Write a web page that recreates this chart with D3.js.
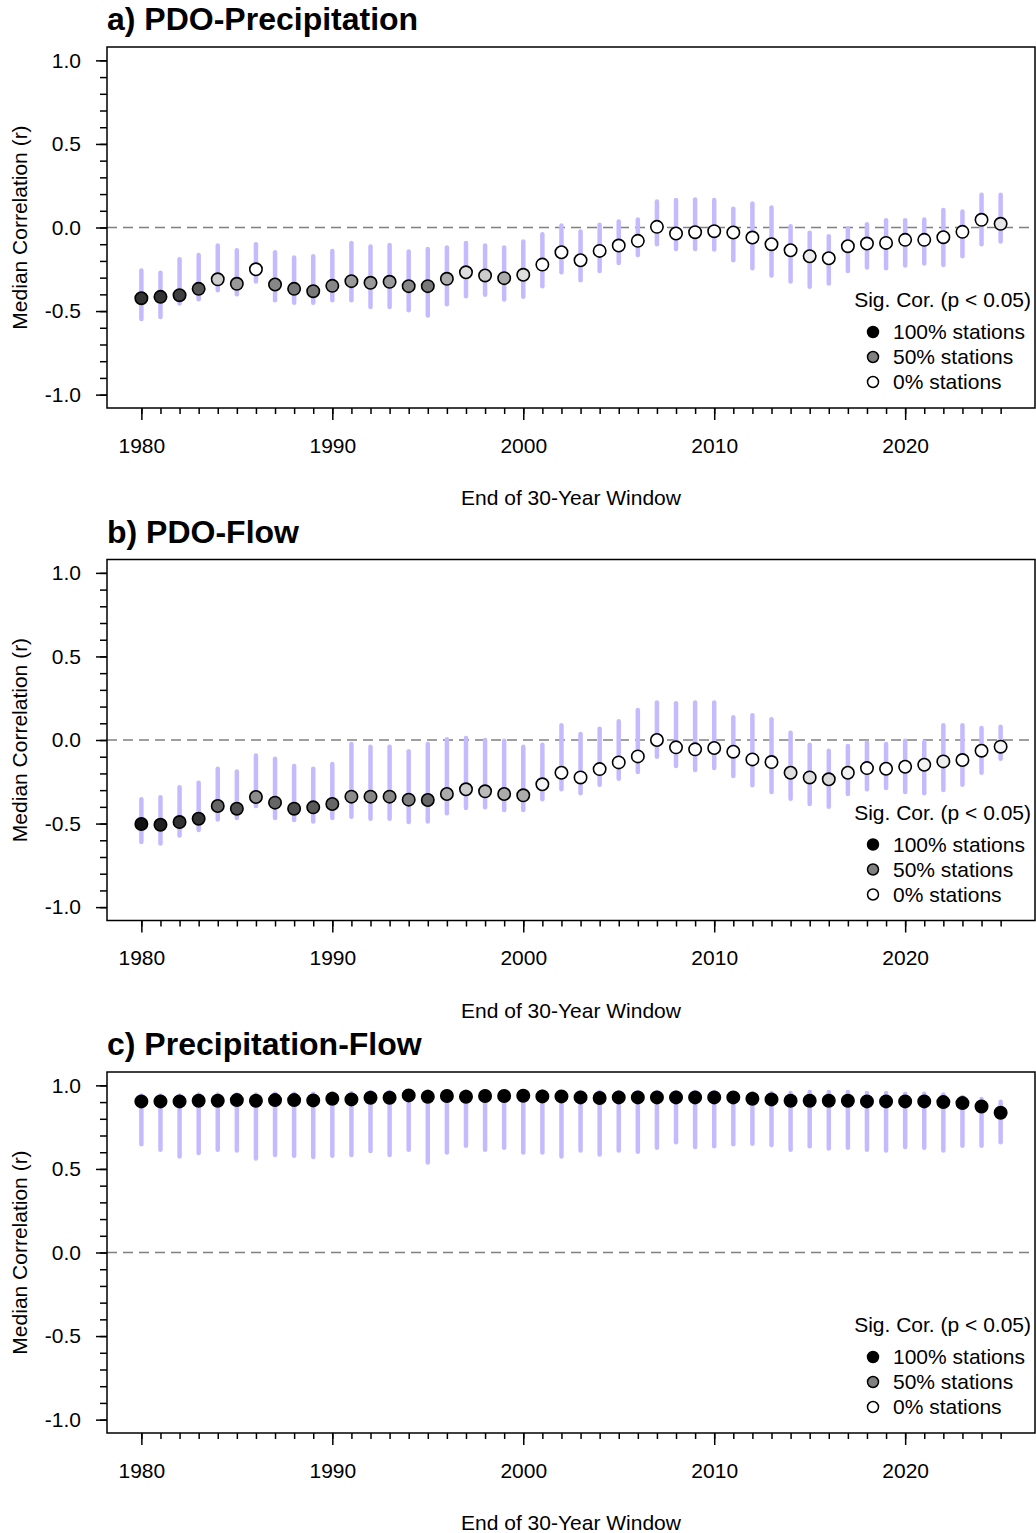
<!DOCTYPE html>
<html>
<head>
<meta charset="utf-8">
<script src="https://cdn.jsdelivr.net/npm/d3@7"></script>
<style>
  body { margin: 0; background: #fff; }
  text { font-family: "Liberation Sans", Arial, sans-serif; }
</style>
</head>
<body>
<div id="chart-area"></div>
<script>
// End year of each 30-year window
var years = [1980,1981,1982,1983,1984,1985,1986,1987,1988,1989,
             1990,1991,1992,1993,1994,1995,1996,1997,1998,1999,
             2000,2001,2002,2003,2004,2005,2006,2007,2008,2009,
             2010,2011,2012,2013,2014,2015,2016,2017,2018,2019,
             2020,2021,2022,2023,2024,2025];

// a) PDO-Precipitation
var aMed = [-0.423,-0.415,-0.405,-0.367,-0.31,-0.337,-0.25,-0.341,-0.367,-0.381,
            -0.349,-0.321,-0.331,-0.325,-0.351,-0.351,-0.307,-0.268,-0.287,-0.303,
            -0.283,-0.222,-0.148,-0.196,-0.14,-0.108,-0.08,0.004,-0.036,-0.028,
            -0.022,-0.03,-0.06,-0.1,-0.136,-0.172,-0.184,-0.112,-0.096,-0.092,
            -0.074,-0.074,-0.058,-0.026,0.046,0.022];
var aHi = [-0.257,-0.27,-0.19,-0.165,-0.108,-0.136,-0.1,-0.148,-0.18,-0.172,
           -0.14,-0.092,-0.114,-0.104,-0.144,-0.128,-0.12,-0.092,-0.108,-0.12,
           -0.084,-0.04,0.012,-0.024,0.016,0.036,0.048,0.156,0.164,0.168,
           0.164,0.112,0.144,0.12,0.008,-0.032,-0.052,-0.004,0.02,0.044,
           0.044,0.048,0.104,0.096,0.196,0.196];
var aLo = [-0.547,-0.535,-0.455,-0.43,-0.375,-0.4,-0.323,-0.435,-0.45,-0.45,
           -0.435,-0.435,-0.475,-0.475,-0.495,-0.527,-0.459,-0.411,-0.403,-0.431,
           -0.415,-0.351,-0.268,-0.315,-0.26,-0.212,-0.164,-0.1,-0.128,-0.128,
           -0.132,-0.196,-0.244,-0.287,-0.323,-0.355,-0.335,-0.26,-0.24,-0.244,
           -0.228,-0.216,-0.224,-0.172,-0.1,-0.084];
var aSig = [0.8,0.8,0.75,0.67,0.2,0.4,0,0.47,0.53,0.53,
            0.47,0.4,0.4,0.4,0.47,0.53,0.33,0.13,0.2,0.33,
            0.13,0,0,0,0,0,0,0,0,0,
            0,0,0,0,0,0.07,0,0,0,0,
            0,0,0,0,0,0.1];

// b) PDO-Flow
var bMed = [-0.503,-0.507,-0.491,-0.471,-0.395,-0.411,-0.341,-0.375,-0.411,-0.403,
            -0.383,-0.339,-0.339,-0.339,-0.357,-0.359,-0.323,-0.295,-0.307,-0.323,
            -0.331,-0.265,-0.196,-0.224,-0.174,-0.134,-0.098,0.0,-0.044,-0.056,
            -0.048,-0.07,-0.116,-0.132,-0.196,-0.224,-0.235,-0.196,-0.168,-0.172,
            -0.16,-0.148,-0.128,-0.12,-0.064,-0.04];
var bHi = [-0.355,-0.343,-0.283,-0.256,-0.172,-0.188,-0.092,-0.112,-0.156,-0.172,
           -0.144,-0.024,-0.04,-0.04,-0.068,-0.024,0.004,0.012,0,-0.004,
           -0.04,-0.028,0.088,0.036,0.068,0.112,0.18,0.224,0.22,0.224,
           0.224,0.136,0.148,0.124,0.044,-0.028,-0.064,-0.036,-0.016,-0.024,
           -0.004,-0.012,0.088,0.088,0.072,0.08];
var bLo = [-0.611,-0.619,-0.571,-0.539,-0.475,-0.467,-0.395,-0.467,-0.479,-0.487,
           -0.467,-0.459,-0.471,-0.471,-0.491,-0.487,-0.439,-0.407,-0.403,-0.419,
           -0.419,-0.355,-0.295,-0.319,-0.268,-0.232,-0.192,-0.1,-0.156,-0.18,
           -0.168,-0.216,-0.271,-0.311,-0.351,-0.383,-0.399,-0.323,-0.295,-0.287,
           -0.311,-0.319,-0.299,-0.268,-0.196,-0.112];
var bSig = [0.93,0.87,0.8,0.8,0.6,0.7,0.45,0.6,0.7,0.65,
            0.6,0.45,0.47,0.47,0.5,0.6,0.33,0.2,0.27,0.33,
            0.33,0.04,0,0,0,0,0,0,0,0,
            0,0,0,0,0.13,0.13,0.15,0.05,0,0,
            0,0.05,0.07,0,0,0.03];

// c) Precipitation-Flow
var cMed = [0.904,0.904,0.904,0.908,0.908,0.912,0.908,0.912,0.912,0.91,
            0.92,0.916,0.926,0.926,0.94,0.932,0.936,0.932,0.936,0.936,
            0.938,0.934,0.934,0.928,0.924,0.928,0.928,0.928,0.928,0.928,
            0.928,0.928,0.92,0.916,0.908,0.908,0.908,0.908,0.904,0.904,
            0.904,0.904,0.9,0.894,0.874,0.836];
var cHi = [0.94,0.94,0.94,0.945,0.945,0.945,0.945,0.95,0.95,0.95,
           0.955,0.955,0.96,0.96,0.965,0.965,0.965,0.965,0.965,0.965,
           0.965,0.965,0.96,0.96,0.96,0.96,0.96,0.96,0.96,0.96,
           0.96,0.955,0.955,0.955,0.955,0.96,0.96,0.96,0.955,0.955,
           0.95,0.95,0.945,0.93,0.918,0.902];
var cLo = [0.647,0.615,0.575,0.595,0.615,0.611,0.563,0.583,0.579,0.571,
           0.579,0.583,0.607,0.583,0.615,0.539,0.599,0.639,0.615,0.627,
           0.599,0.599,0.575,0.611,0.587,0.611,0.603,0.627,0.659,0.631,
           0.635,0.647,0.651,0.643,0.615,0.635,0.623,0.627,0.615,0.611,
           0.631,0.627,0.611,0.639,0.639,0.659];
var cSig = [1,1,1,1,1,1,1,1,1,1, 1,1,1,1,1,1,1,1,1,1,
            1,1,1,1,1,1,1,1,1,1, 1,1,1,1,1,1,1,1,1,1,
            1,1,1,1,1,1];

var titles = ["a) PDO-Precipitation", "b) PDO-Flow", "c) Precipitation-Flow"];
var yTicks = [-1.0, -0.5, 0.0, 0.5, 1.0];
var xTicks = [1980, 1990, 2000, 2010, 2020];
var legendLabels = ["100% stations", "50% stations", "0% stations"];
var legendSig = [1, 0.5, 0];

var panels = [
  { title: titles[0], med: aMed, hi: aHi, lo: aLo, sig: aSig },
  { title: titles[1], med: bMed, hi: bHi, lo: bLo, sig: bSig },
  { title: titles[2], med: cMed, hi: cHi, lo: cLo, sig: cSig }
];

var margin = { left: 107, top: 47 };
var width = 928;
var height = 361;
var step = 512.5;

var svg = d3.select("#chart-area").append("svg")
  .attr("width", 1036)
  .attr("height", 1533);

var x = d3.scaleLinear()
  .domain([1978.2, 2026.8])
  .range([0, width]);

var y = d3.scaleLinear()
  .domain([-1.08, 1.08])
  .range([height, 0]);

// fill shade from share of significant stations
var fill = function(s) { return d3.interpolateRgb("#ffffff", "#000000")(s); };

// plain hyphen minus like R
var fmtY = function(d) { return d3.format(".1f")(d).replace("\u2212", "-"); };

panels.forEach(function(p, i) {
  var g = svg.append("g")
    .attr("transform", "translate(" + margin.left + "," + (margin.top + i * step) + ")");

  // Title
  g.append("text")
    .attr("x", 0)
    .attr("y", -17)
    .attr("font-size", "32px")
    .attr("font-weight", "bold")
    .text(p.title);

  // Y axis: major + minor ticks
  var yAxisMinor = d3.axisLeft(y).tickValues(d3.range(-10, 11).map(function(d) { return d / 10; }))
    .tickSize(7).tickFormat("");
  var yAxisMajor = d3.axisLeft(y).tickValues(yTicks).tickSize(11).tickPadding(15)
    .tickFormat(fmtY);
  g.append("g").attr("class", "y-minor").call(yAxisMinor);
  g.append("g").attr("class", "y-axis").call(yAxisMajor);

  // X axis
  var xAxisMinor = d3.axisBottom(x).tickValues(years).tickSize(6).tickFormat("");
  var xAxisMajor = d3.axisBottom(x).tickValues(xTicks).tickSize(12).tickPadding(18)
    .tickFormat(d3.format("d"));
  g.append("g").attr("transform", "translate(0," + height + ")").call(xAxisMinor);
  g.append("g").attr("class", "x-axis").attr("transform", "translate(0," + height + ")").call(xAxisMajor);

  g.selectAll(".domain").remove();
  g.selectAll(".tick line").attr("stroke", "#000").attr("stroke-width", 1.5);
  g.selectAll(".tick text").attr("font-size", "21px").attr("fill", "#000")
    .attr("font-family", "Liberation Sans, Arial, sans-serif");

  // Axis labels
  g.append("text")
    .attr("x", 464)
    .attr("y", height + 97)
    .attr("font-size", "21px")
    .attr("text-anchor", "middle")
    .text("End of 30-Year Window");

  g.append("text")
    .attr("transform", "rotate(-90)")
    .attr("x", -height / 2)
    .attr("y", -80)
    .attr("font-size", "21px")
    .attr("text-anchor", "middle")
    .text("Median Correlation (r)");

  // zero line
  g.append("line")
    .attr("x1", 0).attr("x2", width)
    .attr("y1", y(0)).attr("y2", y(0))
    .attr("stroke", "#808080")
    .attr("stroke-width", 1.6)
    .attr("stroke-dasharray", "10,6");

  var data = years.map(function(yr, j) {
    return { year: yr, med: p.med[j], hi: p.hi[j], lo: p.lo[j], sig: p.sig[j] };
  });

  // range bars
  g.selectAll("line.bar")
    .data(data)
    .enter()
    .append("line")
      .attr("class", "bar")
      .attr("x1", function(d) { return x(d.year); })
      .attr("x2", function(d) { return x(d.year); })
      .attr("y1", function(d) { return y(d.hi); })
      .attr("y2", function(d) { return y(d.lo); })
      .attr("stroke", "#c6baff")
      .attr("stroke-width", 4.5)
      .attr("stroke-linecap", "round");

  // medians
  g.selectAll("circle.pt")
    .data(data)
    .enter()
    .append("circle")
      .attr("class", "pt")
      .attr("cx", function(d) { return x(d.year); })
      .attr("cy", function(d) { return y(d.med); })
      .attr("r", 6.2)
      .attr("fill", function(d) { return fill(d.sig); })
      .attr("stroke", "#000")
      .attr("stroke-width", 1.6);

  // box
  g.append("rect")
    .attr("width", width)
    .attr("height", height)
    .attr("fill", "none")
    .attr("stroke", "#000")
    .attr("stroke-width", 1.5);

  // legend
  var lg = g.append("g");
  lg.append("text")
    .attr("x", width - 4)
    .attr("y", 260)
    .attr("font-size", "21px")
    .attr("text-anchor", "end")
    .text("Sig. Cor. (p < 0.05)");
  legendLabels.forEach(function(lab, k) {
    lg.append("circle")
      .attr("cx", 766)
      .attr("cy", 285 + k * 25)
      .attr("r", 5.5)
      .attr("fill", fill(legendSig[k]))
      .attr("stroke", "#000")
      .attr("stroke-width", 1.5);
    lg.append("text")
      .attr("x", 786)
      .attr("y", 292 + k * 25)
      .attr("font-size", "21px")
      .text(lab);
  });
});
</script>
</body>
</html>
